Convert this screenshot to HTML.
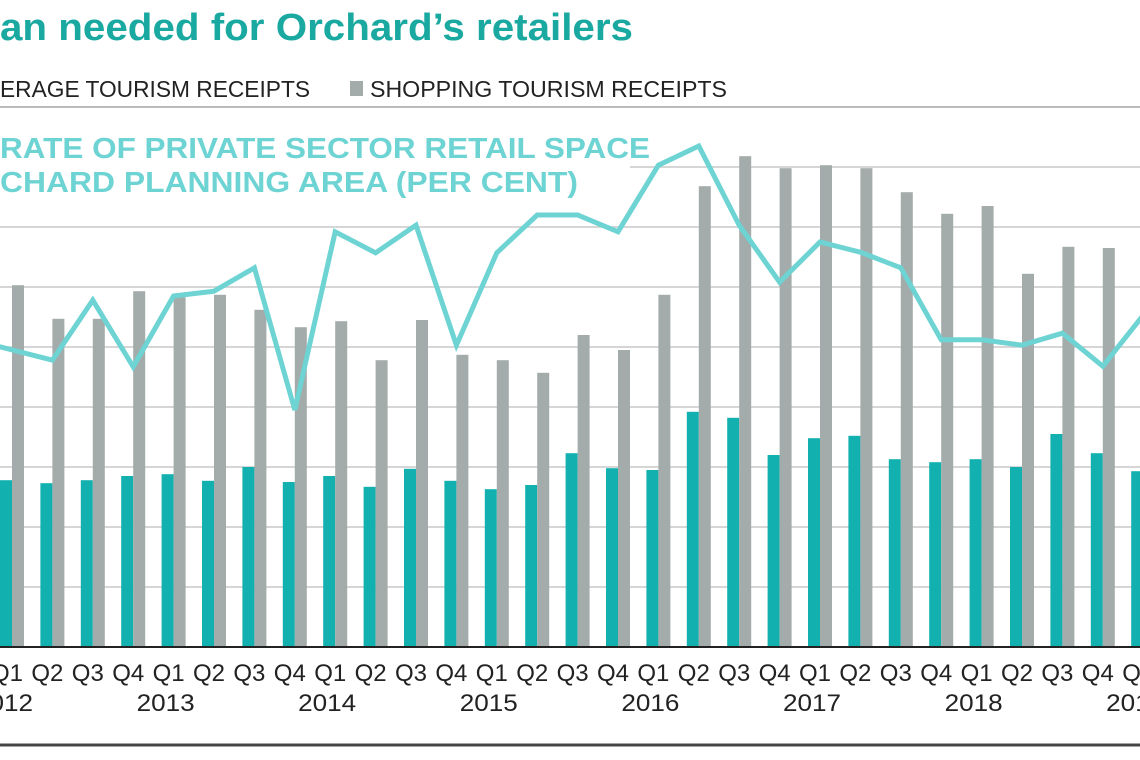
<!DOCTYPE html>
<html><head><meta charset="utf-8"><style>
html,body{margin:0;padding:0;background:#fff;width:1140px;height:760px;overflow:hidden}
svg{display:block;font-family:"Liberation Sans",sans-serif}
</style></head><body>
<svg id="chart" width="1140" height="760" viewBox="0 0 1140 760">
<text x="0" y="40" font-size="38" font-weight="bold" fill="#1aa9a0" textLength="633" lengthAdjust="spacingAndGlyphs">an needed for Orchard’s retailers</text>
<g>
<text x="0" y="97" font-size="23" fill="#222" textLength="310" lengthAdjust="spacingAndGlyphs">ERAGE TOURISM RECEIPTS</text>
<rect x="350" y="81" width="13" height="15" fill="#a3acaa"/>
<text x="370" y="97" font-size="23" fill="#222" textLength="357" lengthAdjust="spacingAndGlyphs">SHOPPING TOURISM RECEIPTS</text>
</g>
<line x1="0" y1="107" x2="1140" y2="107" stroke="#bbb" stroke-width="2"/>
<g id="grid"></g>
<g id="bars"></g>
<g id="linelayer"></g>
<text x="0" y="158" font-size="29" font-weight="bold" fill="#6dd3d3" textLength="650" lengthAdjust="spacingAndGlyphs">RATE OF PRIVATE SECTOR RETAIL SPACE</text>
<text x="0" y="192" font-size="29" font-weight="bold" fill="#6dd3d3" textLength="578" lengthAdjust="spacingAndGlyphs">CHARD PLANNING AREA (PER CENT)</text>
<line x1="0" y1="647" x2="1140" y2="647" stroke="#222" stroke-width="2"/>
<g id="xlabels"></g>
<line x1="0" y1="745" x2="1140" y2="745" stroke="#444" stroke-width="3"/>
</svg>
<script>
const quarters = ["Q1","Q2","Q3","Q4","Q1","Q2","Q3","Q4","Q1","Q2","Q3","Q4","Q1","Q2","Q3","Q4","Q1","Q2","Q3","Q4","Q1","Q2","Q3","Q4","Q1","Q2","Q3","Q4","Q1"];
const years = ["2012","2013","2014","2015","2016","2017","2018","2019"];
const yearIdx = [0,4,8,12,16,20,24,28];
const averageReceipts = [27.8,27.3,27.8,28.5,28.8,27.7,30,27.5,28.5,26.7,29.7,27.7,26.3,27,32.3,29.8,29.5,39.2,38.2,32,34.8,35.2,31.3,30.8,31.3,30,35.5,32.3,29.3];
const shoppingReceipts = [60.3,54.7,54.7,59.3,58.3,58.7,56.2,53.3,54.3,47.8,54.5,48.7,47.8,45.7,52,49.5,58.7,76.8,81.8,79.8,80.3,79.8,75.8,72.2,73.5,62.2,66.7,66.5,68.3];
const vacancyRate = [50.2,47.8,57.8,46.7,58.5,59.3,63.2,39.5,69.2,65.7,70.3,50.3,65.7,72,72,69.2,80.3,83.5,70.3,60.8,67.5,65.8,63.2,51.2,51.2,50.3,52.3,46.8,55.3];
const gridTicks = [10,20,30,40,50,60,70,80];

const NS="http://www.w3.org/2000/svg";
const y0=647, ppu=6, step=40.4, bw=12;
const yS=v=>y0-v*ppu;
const xL=i=>i*step;           // left of pair
const xC=i=>i*step+bw;        // pair center
function mk(t,a,p){const e=document.createElementNS(NS,t);for(const k in a)e.setAttribute(k,a[k]);p.appendChild(e);return e;}
const grid=document.getElementById('grid'),bars=document.getElementById('bars'),ll=document.getElementById('linelayer'),xl=document.getElementById('xlabels');
gridTicks.forEach(t=>{
  const y=yS(t);
  const l=mk('line',{x1:y<200?630:0,y1:y,x2:1140,y2:y,stroke:'#c8c8c8','stroke-width':1.5},grid);
  
  
});
averageReceipts.forEach((v,i)=>{
  const r=mk('rect',{x:xL(i),y:yS(v),width:bw,height:v*ppu,fill:'#12b0ae'},bars);
  
  
  const s=shoppingReceipts[i];
  const g=mk('rect',{x:xL(i)+bw,y:yS(s),width:bw,height:s*ppu,fill:'#a3acaa'},bars);
  
  
});
const pts=vacancyRate.map((v,i)=>(i===0?-4:xC(i))+','+yS(v)).join(' ');
const pl=mk('polyline',{points:pts,fill:'none',stroke:'#6dd3d3','stroke-width':5,'stroke-linejoin':'miter'},ll);


quarters.forEach((q,i)=>{
  const t=mk('text',{x:xC(i)-5,y:681,'font-size':24,'text-anchor':'middle',fill:'#222',textLength:32,lengthAdjust:'spacingAndGlyphs'},xl);
  t.textContent=q;
  
  
});
years.forEach((y,k)=>{
  const t=mk('text',{x:xC(yearIdx[k])-8,y:711,'font-size':24,'text-anchor':'middle',fill:'#222',textLength:58,lengthAdjust:'spacingAndGlyphs'},xl);
  t.textContent=y;
  
  
});
</script>
</body></html>
